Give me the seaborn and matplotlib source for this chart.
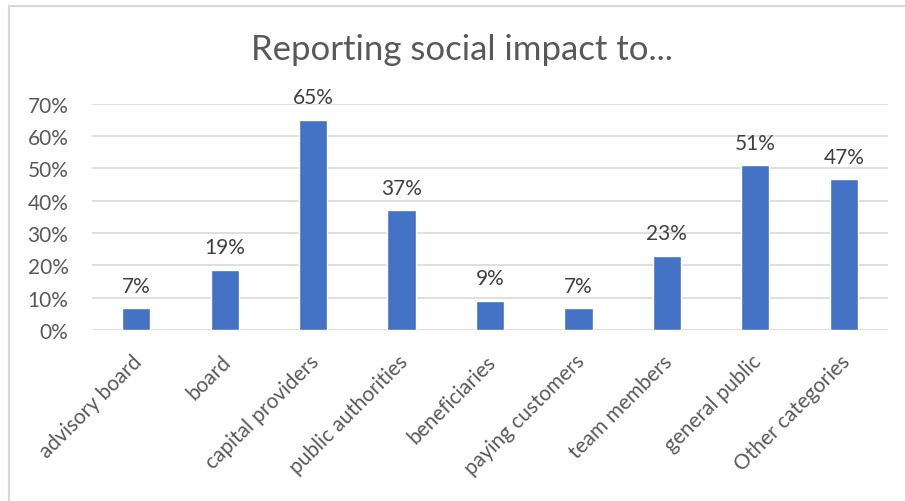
import matplotlib
matplotlib.use("Agg")
import matplotlib.pyplot as plt
from matplotlib.lines import Line2D
from matplotlib.ticker import PercentFormatter
from matplotlib.transforms import ScaledTranslation
import seaborn as sns
import pandas as pd

categories = ["advisory board", "board", "capital providers", "public authorities",
              "beneficiaries", "paying customers", "team members", "general public",
              "Other categories"]
shares = [6.8, 18.6, 65.0, 37.0, 9.1, 6.8, 23.0, 51.0, 46.6]
y_ticks = [0, 10, 20, 30, 40, 50, 60, 70]

sns.set_theme(style="white")
plt.rcParams["font.family"] = ["Lato", "DejaVu Sans"]

df = pd.DataFrame({"category": categories, "share": shares})

fig = plt.figure(figsize=(9.05, 5.02), dpi=100)
ax = fig.add_axes([92 / 905, 1 - 331 / 502, 796 / 905, (331 - 104.7) / 502])

sns.barplot(data=df, x="category", y="share", color="#4472C4", width=0.32,
            saturation=1, ax=ax)

ax.set_ylim(0, 70)
ax.set_yticks(y_ticks)
ax.yaxis.set_major_formatter(PercentFormatter(decimals=0))
ax.grid(axis="y", color="#D9D9D9", linewidth=1.2)
ax.set_axisbelow(True)
for s in ax.spines.values():
    s.set_visible(False)
ax.set_xlabel("")
ax.set_ylabel("")
ax.tick_params(axis="y", labelsize=15, colors="#595959", length=0, pad=17)
ax.tick_params(axis="x", labelsize=15, colors="#595959", length=0, pad=20)
shift = ScaledTranslation(2 / 72, 0, fig.dpi_scale_trans)
for lbl in ax.get_xticklabels():
    lbl.set_rotation(45)
    lbl.set_ha("right")
    lbl.set_va("center")
    lbl.set_rotation_mode("anchor")
    lbl.set_transform(lbl.get_transform() + shift)

for i, v in enumerate(shares):
    ax.annotate(f"{v:.0f}%", (i, v), xytext=(0, 9), textcoords="offset points",
                ha="center", va="bottom", fontsize=15, color="#404040")

fig.text(462 / 905, 1 - 50 / 502, "Reporting social impact to...", ha="center",
         va="center", fontsize=25, color="#595959")

# thin frame along top and left edges
fig.add_artist(Line2D([8.5 / 905, 1], [1 - 6.5 / 502, 1 - 6.5 / 502],
                      transform=fig.transFigure, color="#D9D9D9", linewidth=1.5))
fig.add_artist(Line2D([8.5 / 905, 8.5 / 905], [0, 1 - 6.5 / 502],
                      transform=fig.transFigure, color="#D9D9D9", linewidth=1.5))

fig.savefig("out.png", dpi=100)
